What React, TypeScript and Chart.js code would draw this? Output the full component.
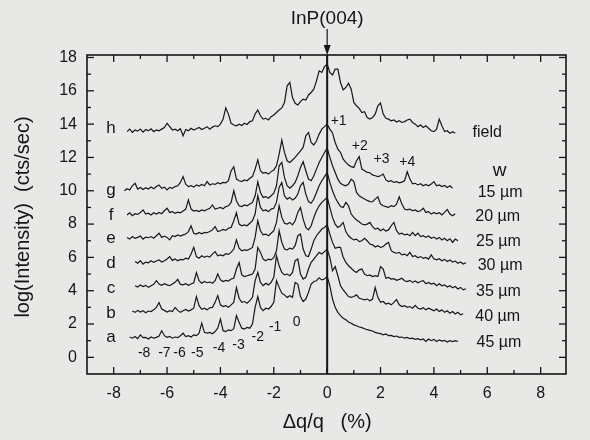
import { useEffect, useRef } from "react";
import { Chart, registerables } from "chart.js";

Chart.register(...registerables);

const X_STEP = 0.1;

// a : W = 45 µm
const startA = -7.4;
const yA = [
  1.22, 1.15, 1.25, 1.12, 1.35,
  1.18, 1.2, 1.1, 1.22, 1.15, 1.2, 1.28, 1.6, 1.3, 1.2,
  1.25, 1.15, 1.22, 1.18, 1.3, 1.45, 1.25, 1.3, 1.22, 1.35,
  1.3, 1.45, 2.05, 1.5, 1.45, 1.5, 1.42, 1.55, 1.75, 2.3,
  1.6, 1.55, 1.65, 1.6, 1.72, 2.5, 2.1, 1.75, 1.7, 1.8,
  1.75, 2.0, 3.0, 3.65, 3.0, 2.8, 2.95, 2.9, 3.05, 3.3,
  4.6, 4.2, 3.85, 3.75, 3.6, 3.7, 3.6, 4.5, 4.4, 3.65,
  3.35, 3.5, 3.9, 4.4, 4.55, 4.6, 4.78, 4.65, 4.7, 4.85,
  4.3, 3.5, 3.0, 2.7, 2.5, 2.35, 2.25, 2.12, 2.05, 1.95,
  1.9, 1.82, 1.78, 1.72, 1.66, 1.62, 1.58, 1.5, 1.45, 1.42,
  1.35, 1.4, 1.3, 1.32, 1.25, 1.28, 1.2, 1.22, 1.15, 1.2,
  1.12, 1.15, 1.08, 1.12, 1.05, 1.1, 0.95, 1.1, 1.0, 1.08,
  0.95, 1.05, 0.98, 1.02, 0.92, 1.0, 0.95, 1.0, 0.95,
];

// b : W = 40 µm
const startB = -7.3;
const yB = [
  2.78, 2.7, 2.82, 2.72,
  2.8, 2.68, 2.78, 2.75, 2.85, 3.0, 3.29, 2.9, 2.82, 2.72,
  2.8, 2.75, 3.0, 2.82, 2.7, 2.8, 2.88, 2.78, 2.85, 2.95,
  3.65, 3.1, 2.88, 2.95, 2.85, 2.98, 3.0, 3.3, 3.71, 3.15,
  3.05, 3.1, 3.0, 3.15, 3.3, 4.19, 3.55, 3.3, 3.35, 3.25,
  3.4, 3.6, 4.6, 5.1, 4.5, 4.3, 4.45, 4.35, 4.5, 4.8,
  6.1, 5.5, 5.1, 4.95, 5.0, 4.9, 5.1, 5.8, 5.9, 5.0,
  4.7, 4.8, 5.3, 5.7, 5.9, 6.1, 6.3, 6.2, 6.35, 6.5,
  6.0, 5.2, 5.45, 4.9, 4.3, 4.05, 3.85, 3.65, 3.6, 3.65,
  3.75, 3.55, 3.5, 3.45, 3.5, 3.4, 3.5, 4.19, 3.6, 3.3,
  3.35, 3.2, 3.25, 3.15, 3.3, 3.47, 3.15, 3.05, 3.1, 3.0,
  3.05, 2.95, 3.12, 2.95, 2.9, 2.98, 2.85, 2.95, 2.88, 2.8,
  2.9, 2.75, 2.85, 2.7, 2.8, 2.65, 2.75, 2.6, 2.7, 2.55, 2.62,
];

// c : W = 35 µm
const startC = -7.2;
const yC = [
  4.3, 4.22, 4.35,
  4.25, 4.32, 4.2, 4.3, 4.38, 4.6, 4.4, 4.32, 4.42, 4.35,
  4.3, 4.4, 4.5, 4.68, 4.38, 4.35, 4.42, 4.32, 4.4, 4.48,
  5.09, 4.6, 4.45, 4.55, 4.48, 4.52, 4.45, 4.6, 5.0, 4.65,
  4.55, 4.62, 4.58, 4.7, 4.75, 5.3, 5.69, 4.95, 4.85, 4.9,
  4.95, 5.0, 5.3, 6.6, 6.3, 5.9, 5.8, 5.9, 5.85, 6.0,
  6.4, 7.6, 6.9, 6.5, 6.45, 6.55, 6.5, 6.7, 7.3, 7.4,
  6.5, 6.1, 6.05, 6.5, 7.0, 7.3, 7.5, 7.7, 7.8, 7.96,
  7.4, 6.9, 6.55, 6.6, 6.6, 6.0, 5.7, 5.5, 5.35, 5.2,
  5.1, 5.25, 5.3, 5.0, 4.9, 4.95, 4.85, 4.9, 4.85, 5.45,
  5.3, 4.75, 4.8, 4.7, 4.72, 4.62, 4.68, 4.75, 4.6, 4.55,
  4.62, 4.5, 4.58, 4.48, 4.55, 4.6, 4.42, 4.5, 4.4, 4.45,
  4.3, 4.42, 4.3, 4.35, 4.22, 4.3, 4.18, 4.25, 4.1, 4.2, 4.05, 4.12,
];

// d : W = 30 µm
const startD = -7.2;
const yD = [
  5.75, 5.65, 5.8,
  5.6, 5.72, 5.68, 5.8, 5.7, 5.78, 5.85, 5.72, 5.8, 5.9,
  6.05, 5.82, 5.9, 5.8, 5.88, 5.85, 5.95, 5.9, 6.2, 6.6,
  6.05, 5.95, 6.1, 6.0, 6.08, 6.02, 6.2, 6.35, 6.1, 6.15,
  6.1, 6.22, 6.18, 6.3, 6.5, 7.05, 6.55, 6.4, 6.45, 6.42,
  6.5, 6.6, 7.2, 8.2, 7.6, 7.35, 7.4, 7.3, 7.45, 7.6,
  8.1, 9.1, 8.4, 8.05, 8.0, 8.1, 7.95, 8.2, 8.7, 9.0,
  8.3, 7.8, 7.65, 7.9, 8.4, 8.8, 9.1, 9.3, 9.45, 9.6,
  9.0, 8.4, 8.0, 7.8, 7.9, 8.1, 7.55, 7.3, 7.15, 7.05,
  7.1, 6.95, 7.0, 7.15, 7.0, 6.8, 6.75, 6.62, 6.7, 6.6,
  6.65, 6.8, 6.9, 6.4, 6.3, 6.25, 6.3, 6.15, 6.2, 6.1,
  6.3, 6.05, 6.1, 5.98, 6.05, 5.95, 6.0, 5.9, 6.15, 5.92,
  5.85, 5.92, 5.8, 5.88, 5.75, 5.85, 5.72, 5.78, 5.65, 5.72, 5.6, 5.68,
];

// e : W = 25 µm
const startE = -7.5;
const yE = [
  7.2, 7.1, 7.25, 7.15, 7.2, 7.28,
  7.1, 7.22, 7.18, 7.25, 7.15, 7.3, 7.45, 7.2, 7.28, 7.2,
  7.05, 7.3, 7.25, 7.35, 7.28, 7.35, 7.4, 7.55, 7.9, 7.45,
  7.4, 7.5, 7.42, 7.5, 7.48, 7.55, 7.65, 7.85, 7.55, 7.6,
  7.68, 7.62, 7.75, 7.8, 8.2, 8.68, 8.0, 7.9, 7.95, 7.9,
  8.05, 8.2, 8.6, 9.7, 9.0, 8.8, 8.85, 8.75, 8.9, 8.95,
  9.3, 10.2, 10.5, 9.7, 9.5, 9.6, 9.45, 9.55, 9.8, 10.3,
  10.5, 9.8, 9.35, 9.25, 9.5, 9.9, 10.3, 10.6, 10.85, 11.1,
  10.5, 10.0, 9.6, 9.3, 9.05, 9.0, 9.3, 9.1, 8.6, 8.4,
  8.25, 8.14, 8.0, 7.95, 8.0, 8.1, 7.85, 7.7, 7.75, 7.6,
  7.7, 7.58, 7.65, 7.9, 8.1, 7.6, 7.4, 7.45, 7.35, 7.4,
  7.3, 7.5, 7.3, 7.45, 7.25, 7.3, 7.2, 7.28, 7.15, 7.22,
  7.1, 7.2, 7.05, 7.15, 7.0, 7.12, 6.9, 7.1, 7.0,
];

// f : W = 20 µm
const startF = -7.5;
const yF = [
  8.55, 8.68, 8.5, 8.62, 8.58, 8.7,
  8.85, 8.6, 8.65, 8.55, 8.68, 8.6, 8.7, 8.62, 8.8, 8.95,
  8.7, 8.75, 8.65, 8.72, 8.68, 8.78, 8.9, 9.45, 8.9, 8.78,
  8.82, 8.75, 8.85, 8.8, 8.88, 8.95, 9.15, 8.9, 8.95, 9.0,
  8.92, 9.05, 9.1, 9.3, 10.0, 9.4, 9.1, 9.05, 9.15, 9.1,
  9.2, 9.3, 9.7, 10.54, 9.9, 9.6, 9.65, 9.55, 9.7, 9.85,
  10.3, 11.5, 11.7, 10.8, 10.3, 10.15, 10.3, 10.5, 10.9, 11.4,
  11.74, 11.2, 10.7, 10.6, 10.9, 11.3, 11.7, 12.0, 12.3, 12.57,
  12.0, 11.5, 11.1, 10.7, 10.45, 10.35, 10.3, 10.4, 10.7, 10.55,
  9.9, 9.7, 9.6, 9.5, 9.42, 9.35, 9.34, 9.5, 9.64, 9.2,
  9.1, 9.05, 9.0, 9.1, 9.05, 9.2, 9.64, 9.2, 8.9, 8.85,
  8.9, 8.8, 8.85, 8.75, 8.8, 8.95, 8.7, 8.75, 8.6, 8.7,
  8.62, 8.68, 8.55, 8.7, 8.88, 8.6, 8.5, 8.62,
];

// g : W = 15 µm
const startG = -7.6;
const yG = [
  10.0, 10.12, 10.05, 10.3, 10.45, 10.1, 10.2,
  10.08, 10.18, 10.1, 10.22, 10.12, 10.25, 10.35, 10.15, 10.22, 10.05,
  10.2, 10.15, 10.25, 10.3, 10.5, 10.85, 10.4, 10.25, 10.3, 10.22,
  10.35, 10.28, 10.38, 10.3, 10.55, 10.35, 10.42, 10.38, 10.48, 10.42,
  10.5, 10.48, 10.6, 11.2, 11.44, 10.7, 10.6, 10.55, 10.65, 10.6,
  10.75, 10.85, 11.3, 11.86, 11.2, 11.05, 11.1, 11.0, 11.15, 11.25,
  11.5, 12.2, 13.05, 12.3, 11.8, 11.7, 11.85, 12.0, 12.2, 12.4,
  12.6, 13.3, 13.5, 12.9, 12.75, 13.0, 13.4, 13.7, 13.85, 14.0,
  13.7, 13.47, 12.9, 12.5, 12.3, 11.9, 11.7, 11.55, 11.45, 11.4,
  11.8, 12.05, 11.3, 11.2, 11.1, 11.08, 10.95, 10.9, 10.85, 10.9,
  11.0, 10.65, 10.55, 10.6, 10.5, 10.55, 10.48, 10.52, 10.6, 11.14,
  10.7, 10.42, 10.45, 10.35, 10.42, 10.3, 10.38, 10.3, 10.4, 10.55,
  10.3, 10.35, 10.25, 10.32, 10.2, 10.3, 10.15,
];

// h : field
const startH = -7.5;
const yH = [
  13.55, 13.7, 13.5, 13.65, 13.58, 13.7,
  13.52, 13.68, 13.6, 13.72, 13.55, 13.65, 13.6, 13.7, 13.8, 14.05,
  13.85, 13.65, 13.7, 13.6, 13.72, 13.3, 13.68, 13.6, 13.75, 13.65,
  13.72, 13.8, 13.68, 13.75, 13.85, 13.7, 13.82, 13.9, 13.85, 14.0,
  14.3, 14.97, 14.6, 14.05, 13.95, 13.9, 14.0, 13.92, 14.05, 13.98,
  14.15, 14.2, 14.6, 14.85, 14.5, 14.3, 14.35, 14.25, 14.45, 14.55,
  14.7, 14.85, 14.97, 15.3, 16.3, 16.5, 15.6, 15.25, 15.15, 15.35,
  15.5, 15.45, 15.75, 15.9, 16.1, 16.6, 17.2, 17.1, 17.45, 17.6,
  17.1, 16.95, 17.3, 17.3, 16.5, 16.05, 16.2, 16.45, 16.1, 15.3,
  15.1, 14.95, 14.7, 14.75, 14.4, 14.3, 14.4, 14.6, 15.1, 15.27,
  14.6, 14.35, 14.3, 14.2, 14.25, 14.13, 14.2, 14.1, 14.15, 14.25,
  14.3, 14.1, 14.0, 13.85, 13.95, 13.8, 13.9, 13.75, 13.6, 13.55,
  13.7, 14.3, 13.9, 13.55, 13.6, 13.45, 13.55, 13.45,
];

const curveLetters = ["a", "b", "c", "d", "e", "f", "g", "h"];
const widthLabels = ["45 µm", "40 µm", "35 µm", "30 µm", "25 µm", "20 µm", "15 µm", "field"];
const leftOrderLabels = ["-8", "-7", "-6", "-5", "-4", "-3", "-2", "-1", "0"];
const rightOrderLabels = ["+1", "+2", "+3", "+4"];
const xTickValues = [-8, -6, -4, -2, 0, 2, 4, 6, 8];
const yTickValues = [0, 2, 4, 6, 8, 10, 12, 14, 16, 18];

const series = [
  { start: startA, ys: yA },
  { start: startB, ys: yB },
  { start: startC, ys: yC },
  { start: startD, ys: yD },
  { start: startE, ys: yE },
  { start: startF, ys: yF },
  { start: startG, ys: yG },
  { start: startH, ys: yH },
];

// label placement (data coordinates, text baselines)
const letterX = -8.1;
const letterY = [0.92, 2.36, 3.87, 5.36, 6.86, 8.24, 9.74, 13.46];
const widthX = [5.6, 5.55, 5.58, 5.64, 5.58, 5.55, 5.64, 5.45];
const widthY = [0.62, 2.18, 3.68, 5.24, 6.68, 8.18, 9.62, 13.24];
const leftOrderX = [-6.86, -6.1, -5.53, -4.87, -4.05, -3.32, -2.6, -1.95, -1.14];
const leftOrderY = [0.02, 0.02, 0.02, 0.02, 0.32, 0.5, 0.98, 1.58, 1.88];
const rightOrderX = [0.43, 1.22, 2.04, 3.0];
const rightOrderY = [13.94, 12.44, 11.66, 11.48];

const FONT = '"Liberation Sans", Arial, Helvetica, sans-serif';
const INK = "#151515";

export default function App() {
  const ref = useRef<HTMLCanvasElement | null>(null);

  useEffect(() => {
    const canvas = ref.current;
    if (!canvas) return;

    const datasets = series.map((s) => ({
      data: s.ys.map((y, i) => ({ x: Math.round((s.start + i * X_STEP) * 100) / 100, y })),
      borderColor: "#171717",
      borderWidth: 1.2,
      pointRadius: 0,
      fill: false,
      tension: 0,
    }));

    const decor = {
      id: "decor",
      afterDraw(chart: any) {
        const { ctx, chartArea: ca, scales } = chart;
        const X = (v: number) => scales.x.getPixelForValue(v);
        const Y = (v: number) => scales.y.getPixelForValue(v);
        const seg = (x1: number, y1: number, x2: number, y2: number) => {
          ctx.beginPath();
          ctx.moveTo(x1, y1);
          ctx.lineTo(x2, y2);
          ctx.stroke();
        };
        ctx.save();
        ctx.strokeStyle = INK;
        ctx.fillStyle = INK;

        // frame
        ctx.lineWidth = 1.6;
        ctx.strokeRect(ca.left, ca.top, ca.right - ca.left, ca.bottom - ca.top);

        // inward ticks
        ctx.lineWidth = 1.3;
        for (let v = -9; v <= 9; v++) {
          const p = X(v);
          if (p <= ca.left + 2 || p >= ca.right - 2) continue;
          const len = v % 2 === 0 ? 7 : 4;
          seg(p, ca.bottom, p, ca.bottom - len);
          seg(p, ca.top, p, ca.top + len);
        }
        for (let v = 0; v <= 18; v++) {
          const p = Y(v);
          const len = v % 2 === 0 ? 7 : 4;
          seg(ca.left, p, ca.left + len, p);
          seg(ca.right, p, ca.right - len, p);
        }

        // substrate peak marker
        const x0 = X(0);
        ctx.lineWidth = 2;
        seg(x0, ca.top, x0, ca.bottom);
        ctx.lineWidth = 1.2;
        seg(x0, 29, x0, ca.top - 7);
        ctx.beginPath();
        ctx.moveTo(x0, ca.top);
        ctx.lineTo(x0 - 3.5, ca.top - 10);
        ctx.lineTo(x0 + 3.5, ca.top - 10);
        ctx.closePath();
        ctx.fill();

        ctx.textBaseline = "alphabetic";
        ctx.textAlign = "center";
        ctx.font = `19px ${FONT}`;
        ctx.fillText("InP(004)", x0, 24);

        // curve letters
        ctx.font = `17px ${FONT}`;
        curveLetters.forEach((t, i) => ctx.fillText(t, X(letterX), Y(letterY[i])));

        // width labels
        ctx.textAlign = "left";
        ctx.font = `16px ${FONT}`;
        widthLabels.forEach((t, i) => ctx.fillText(t, X(widthX[i]), Y(widthY[i])));
        ctx.textAlign = "center";
        ctx.font = `19px ${FONT}`;
        ctx.fillText("w", X(6.46), Y(10.88));

        // satellite orders
        ctx.font = `14px ${FONT}`;
        leftOrderLabels.forEach((t, i) => ctx.fillText(t, X(leftOrderX[i]), Y(leftOrderY[i])));
        rightOrderLabels.forEach((t, i) => ctx.fillText(t, X(rightOrderX[i]), Y(rightOrderY[i])));

        // axis titles
        ctx.font = `20px ${FONT}`;
        ctx.fillText("\u0394q/q   (%)", x0, 428);
        ctx.save();
        ctx.translate(29, 217);
        ctx.rotate(-Math.PI / 2);
        ctx.font = `20px ${FONT}`;
        ctx.fillText("log(Intensity)  (cts/sec)", 0, 0);
        ctx.restore();

        ctx.restore();
      },
    };

    const chart = new Chart(canvas, {
      type: "line",
      data: { datasets },
      options: {
        animation: false,
        responsive: false,
        maintainAspectRatio: false,
        events: [],
        layout: { padding: { top: 55, right: 24, left: 0, bottom: 0 } },
        plugins: { legend: { display: false }, tooltip: { enabled: false } },
        scales: {
          x: {
            type: "linear",
            min: -9,
            max: 8.95,
            grid: { display: false, drawTicks: false },
            border: { display: false },
            afterBuildTicks: (scale: any) => {
              scale.ticks = xTickValues.map((v) => ({ value: v }));
            },
            afterFit: (scale: any) => {
              scale.height = 66;
            },
            ticks: {
              padding: 10,
              color: INK,
              font: { family: FONT, size: 16 },
              maxRotation: 0,
              callback: (v: any) => String(v),
            },
          },
          y: {
            type: "linear",
            min: -1,
            max: 18.15,
            grid: { display: false, drawTicks: false },
            border: { display: false },
            afterBuildTicks: (scale: any) => {
              scale.ticks = yTickValues.map((v) => ({ value: v }));
            },
            afterFit: (scale: any) => {
              scale.width = 87;
            },
            ticks: {
              padding: 10,
              color: INK,
              font: { family: FONT, size: 16 },
              callback: (v: any) => String(v),
            },
          },
        },
      },
      plugins: [decor],
    });

    return () => chart.destroy();
  }, []);

  return (
    <div
      style={{
        position: "fixed",
        left: 0,
        top: 0,
        width: 590,
        height: 440,
        background: "#e8e8e7",
        overflow: "hidden",
      }}
    >
      <canvas ref={ref} width={590} height={440} style={{ display: "block", width: 590, height: 440 }} />
    </div>
  );
}
